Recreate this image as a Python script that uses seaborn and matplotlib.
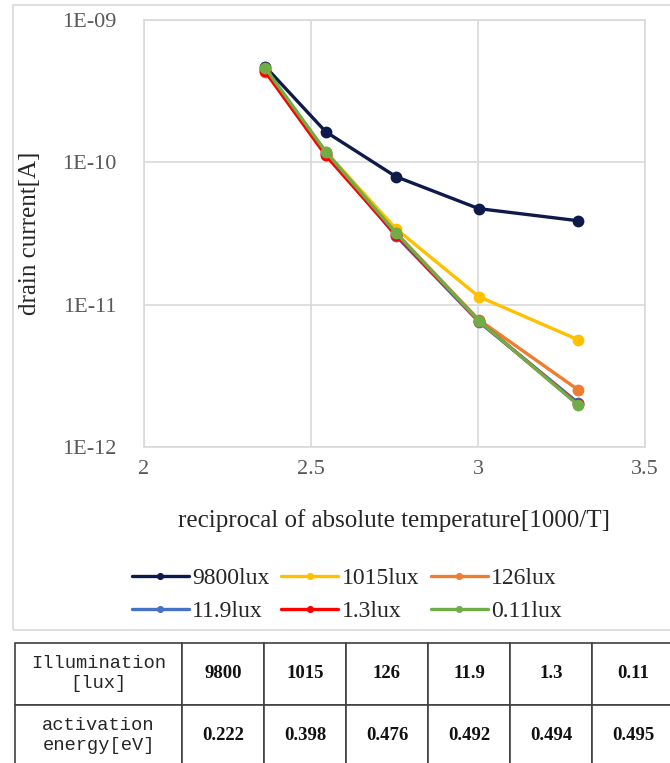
import numpy as np
import pandas as pd
import matplotlib
matplotlib.use("Agg")
import matplotlib.pyplot as plt
import matplotlib.ticker as mticker
from matplotlib.patches import Rectangle
import seaborn as sns

# ── DATA ─────────────────────────────────────────────────
inv_temp = [2.363, 2.544, 2.754, 3.002, 3.299]          # 1000/T
series_names = ["9800lux", "1015lux", "126lux", "11.9lux", "1.3lux", "0.11lux"]
cur_9800 = [4.71e-10, 1.64e-10, 7.94e-11, 4.73e-11, 3.89e-11]
cur_1015 = [4.50e-10, 1.19e-10, 3.42e-11, 1.14e-11, 5.68e-12]
cur_126 = [4.33e-10, 1.13e-10, 3.20e-11, 7.85e-12, 2.53e-12]
cur_11_9 = [4.50e-10, 1.17e-10, 3.05e-11, 7.60e-12, 2.05e-12]
cur_1_3 = [4.35e-10, 1.12e-10, 3.10e-11, 7.70e-12, 2.00e-12]
cur_0_11 = [4.60e-10, 1.19e-10, 3.20e-11, 7.73e-12, 1.98e-12]

illum = ["9800", "1015", "126", "11.9", "1.3", "0.11"]
act_energy = ["0.222", "0.398", "0.476", "0.492", "0.494", "0.495"]

colors = ["#0e1a4a", "#ffc000", "#ed7d31", "#4472c4", "#ff0000", "#70ad47"]
palette = dict(zip(series_names, colors))

all_series = [cur_9800, cur_1015, cur_126, cur_11_9, cur_1_3, cur_0_11]
df = pd.concat([pd.DataFrame({"x": inv_temp, "y": vals, "lux": name})
                for name, vals in zip(series_names, all_series)],
               ignore_index=True)

# ── STYLE ────────────────────────────────────────────────
sns.set_theme(style="white")
plt.rcParams["font.family"] = ["Liberation Serif", "DejaVu Serif"]

W, H = 670, 763
fig = plt.figure(figsize=(W / 100, H / 100), dpi=100)
fig.patch.set_facecolor("white")

# outer chart frame
fig.patches.append(Rectangle((13 / W, 1 - 630 / H), 1.0, 625 / H,
                             transform=fig.transFigure, fill=False,
                             edgecolor="#d9d9d9", linewidth=1.2))

ax = fig.add_axes([144 / W, 1 - 447 / H, (645 - 144) / W, (447 - 20) / H])
sns.lineplot(data=df, x="x", y="y", hue="lux", hue_order=series_names,
             palette=palette, marker="o", markersize=8.5, markeredgewidth=0,
             linewidth=2.4, ax=ax, legend=True, sort=False)

ax.set_yscale("log")
ax.set_ylim(1e-12, 1e-9)
ax.set_xlim(2, 3.5)
ax.set_xticks([2, 2.5, 3, 3.5])
ax.xaxis.set_major_formatter(mticker.FuncFormatter(lambda v, p: f"{v:g}"))
ax.set_yticks([1e-12, 1e-11, 1e-10, 1e-9])
ax.yaxis.set_major_formatter(mticker.FuncFormatter(
    lambda v, p: "1E-%02d" % round(-np.log10(v))))
ax.yaxis.set_minor_locator(mticker.NullLocator())
ax.grid(True, color="#d9d9d9", linewidth=1.2)
for s in ax.spines.values():
    s.set_color("#d9d9d9")
    s.set_linewidth(1.2)
ax.tick_params(axis="both", length=0, labelsize=16, labelcolor="#595959")
ax.tick_params(axis="x", pad=9)
ax.tick_params(axis="y", pad=20)

ax.set_xlabel("reciprocal of absolute temperature[1000/T]", fontsize=18,
              color="#262626", labelpad=22)
ax.set_ylabel("drain current[A]", fontsize=18, color="#262626")
ax.yaxis.set_label_coords(-0.206, 0.5)

# legend filled row by row like the original
handles, labels = ax.get_legend_handles_labels()
ax.get_legend().remove()
order = [0, 3, 1, 4, 2, 5]
fig.legend([handles[i] for i in order], [labels[i] for i in order],
           loc="center", ncol=3, bbox_to_anchor=(347 / W, 1 - 595 / H),
           frameon=False, fontsize=17, handlelength=2.4, handletextpad=0.15,
           columnspacing=0.5, labelspacing=0.5, markerscale=0.6)

# ── TABLE ────────────────────────────────────────────────
tax = fig.add_axes([15 / W, -3 / H, (674 - 15) / W, 123 / H])
tax.axis("off")
cell_text = [["Illumination\n[lux]"] + illum,
             ["activation\nenergy[eV]"] + act_energy]
first_w = 167 / 659
col_w = [first_w] + [(1 - first_w) / 6] * 6
tbl = tax.table(cellText=cell_text, colWidths=col_w, bbox=[0, 0, 1, 1],
                cellLoc="center")
tbl.auto_set_font_size(False)
for (r, c), cell in tbl.get_celld().items():
    cell.set_edgecolor("#404040")
    cell.set_linewidth(1.2)
    txt = cell.get_text()
    if c == 0:
        txt.set_fontfamily("Liberation Mono")
        txt.set_fontsize(13.5)
        txt.set_color("#262626")
        txt.set_linespacing(1.25)
    else:
        txt.set_fontfamily("Liberation Serif")
        txt.set_fontweight("bold")
        txt.set_fontsize(13.5)
        txt.set_color("#111111")

plt.savefig("out.png", dpi=100, facecolor="white")
